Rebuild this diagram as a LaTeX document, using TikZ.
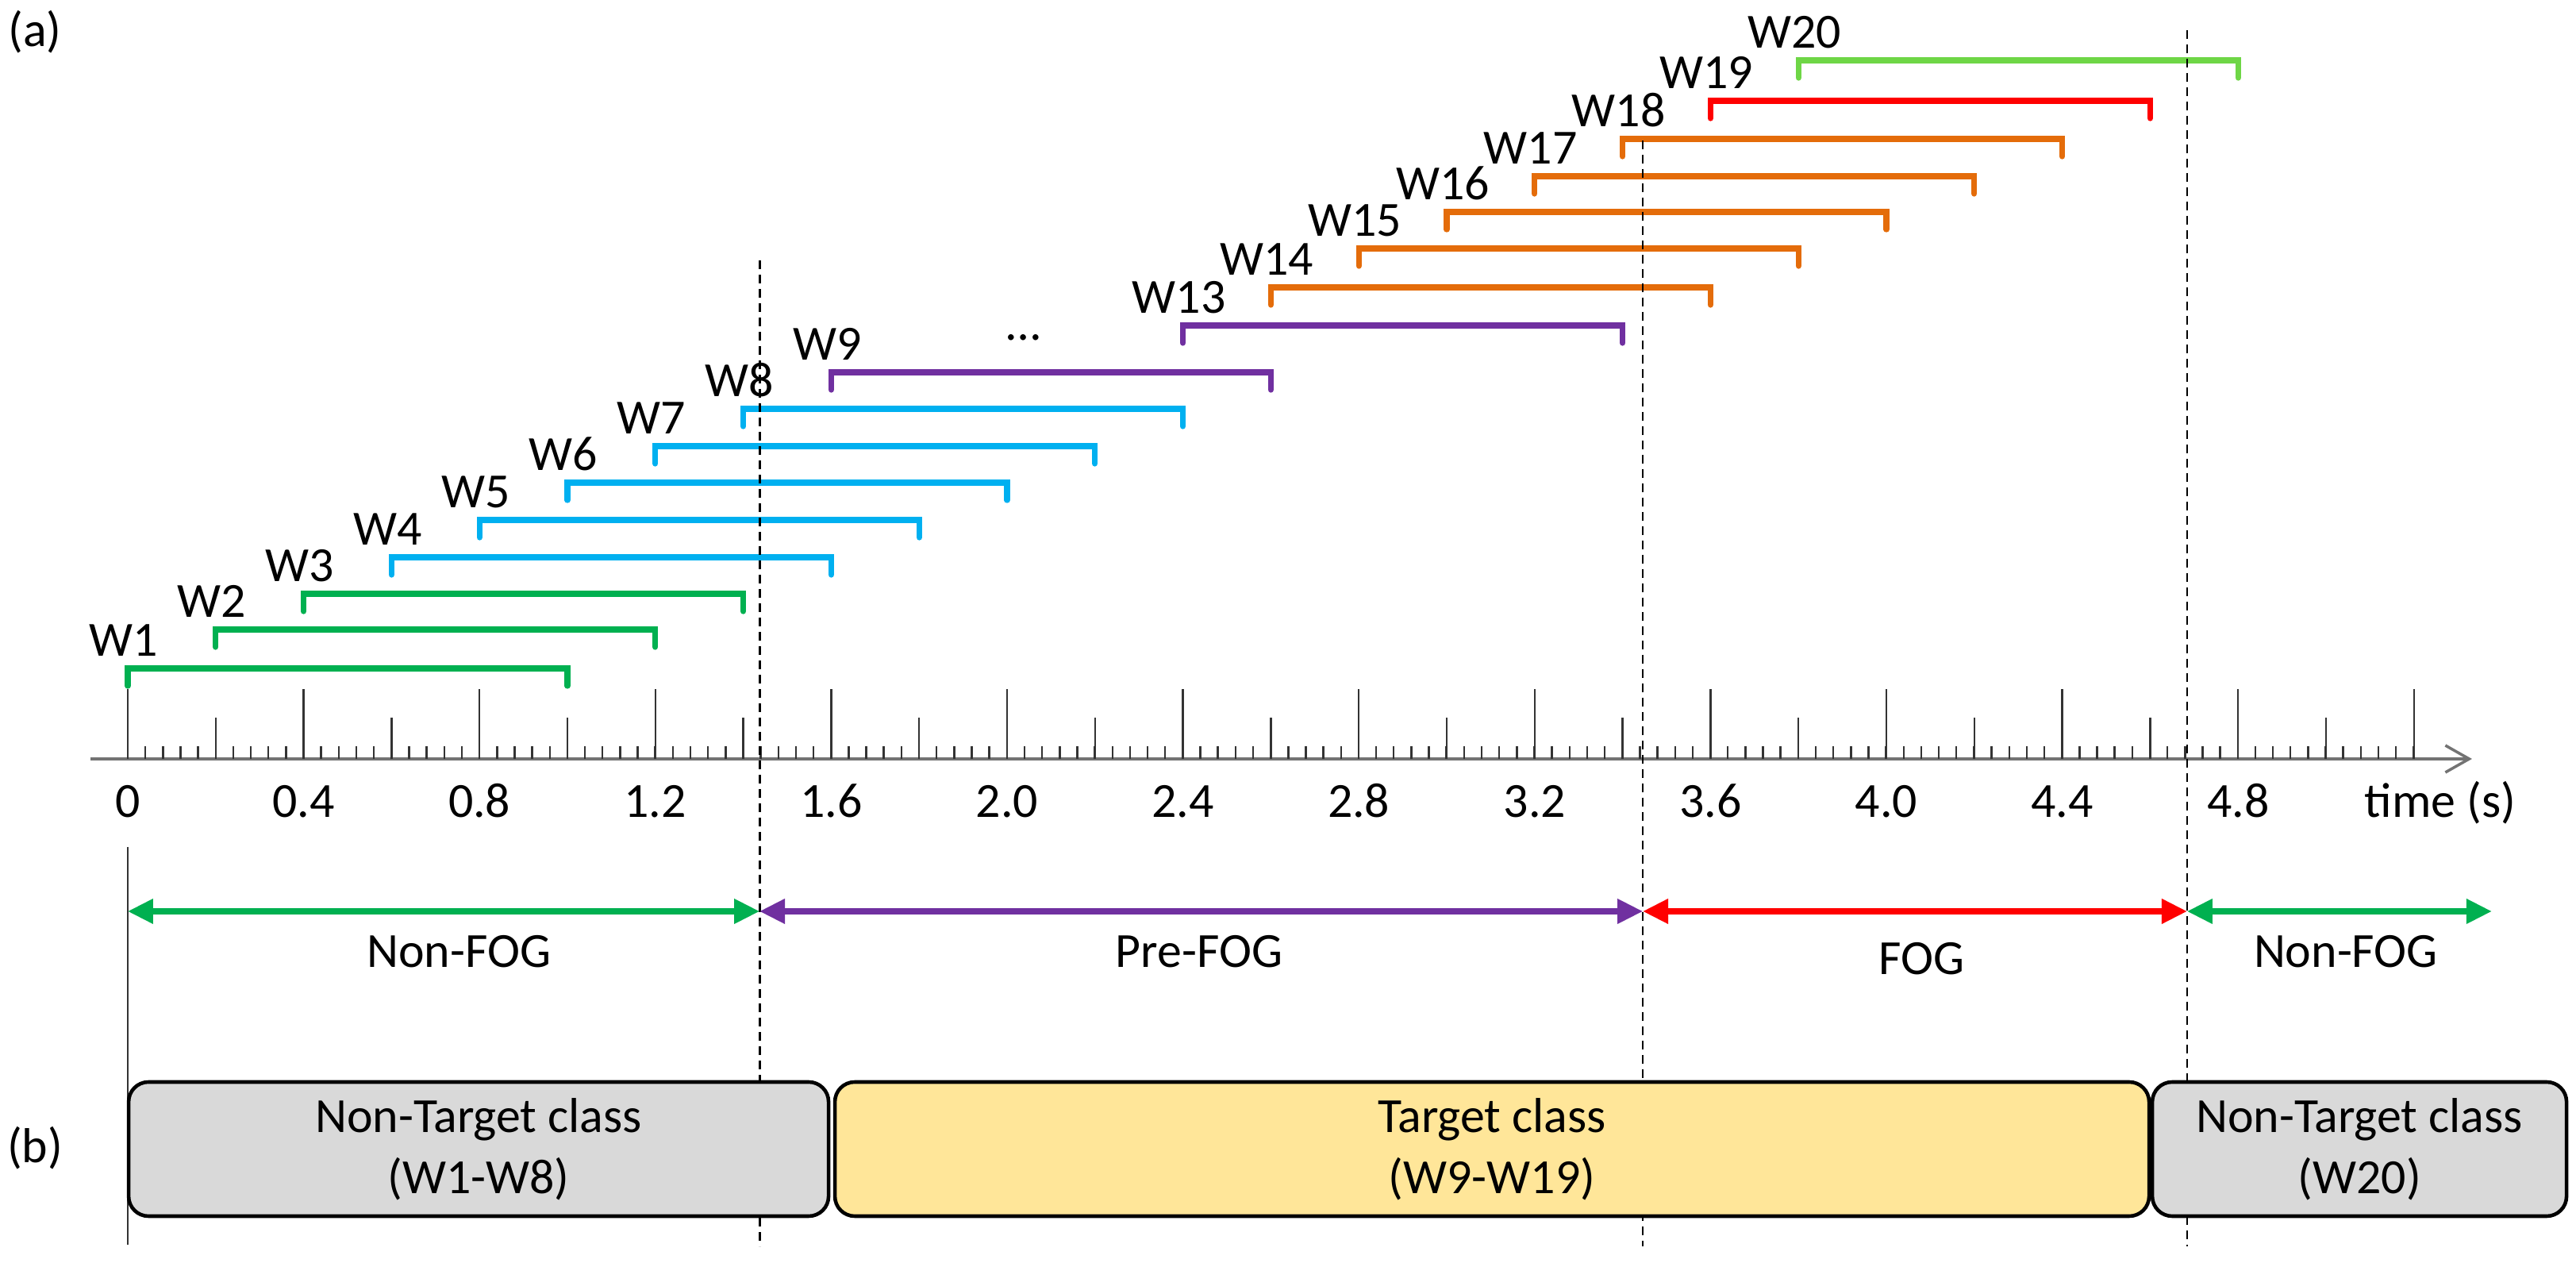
\documentclass[tikz,border=0pt]{standalone}
\usepackage{fontspec}
\setmainfont{Carlito}
\usepackage{tikz}
\usetikzlibrary{arrows.meta}
\usetikzlibrary{positioning}
\definecolor{wgreen}{RGB}{0,176,80}
\definecolor{wblue}{RGB}{0,176,240}
\definecolor{wpurple}{RGB}{112,48,160}
\definecolor{worange}{RGB}{228,108,10}
\definecolor{wred}{RGB}{255,0,0}
\definecolor{wlime}{RGB}{110,214,70}
\definecolor{boxgray}{RGB}{217,217,217}
\definecolor{boxyellow}{RGB}{255,230,153}
\tikzset{win/.style = {line width=2.1pt, line cap=round}}
\tikzset{wlabel/.style = {anchor=base, inner sep=0, xshift=-0.05cm, yshift=0.15cm}}
\tikzset{tickmark/.style = {line width=0.7pt, black!80}}
\tikzset{phase/.style = {line width=2pt,
                         {Triangle[length=3.2mm,width=3mm]}-{Triangle[length=3.2mm,width=3mm]}}}
\tikzset{sep/.style = {line width=0.8pt, dash pattern=on 1.1mm off 0.7mm}}
\tikzset{cls/.style = {draw, line width=1.3pt, rounded corners=2.5mm, align=center,
                       minimum height=1.69cm, inner sep=0}}

\begin{document}
\begin{tikzpicture}[x=5.54cm, y=1cm, font=\fontsize{17.6}{21.9}\selectfont]
  \useasboundingbox (-0.2906,-6.35) rectangle (5.5686,9.56);
  \node (lbla) at (-0.211,9.16) {(a)};
  \node (lblb) at (-0.211,-4.9) {(b)};
  % time axis
  \draw [line width=1pt, black!55, -{Straight Barb[length=3mm,width=3.4mm]}] (-0.085,0) -- (5.332,0);
  \foreach \i in {0,...,130} \draw [tickmark] (\i*0.04,0) -- ++(0,0.16);
  \foreach \i in {0,...,26} \draw [tickmark] (\i*0.2,0) -- ++(0,0.52);
  \foreach \i in {0,...,13} \draw [tickmark] (\i*0.4,0) -- ++(0,0.88);
  \foreach \t [count=\n] in {0,0.4,0.8,1.2,1.6,2.0,2.4,2.8,3.2,3.6,4.0,4.4,4.8}
    \node [anchor=base] (tick\n) at (\t,-0.74) {\t};
  \node [anchor=base] (unit) at (5.26,-0.74) {time (s)};
  % windows
  \foreach \k/\s/\y/\c in {1/0/1.14/wgreen, 2/0.2/1.63/wgreen, 3/0.4/2.08/wgreen,
                           4/0.6/2.54/wblue, 5/0.8/3.01/wblue, 6/1.0/3.48/wblue,
                           7/1.2/3.94/wblue, 8/1.4/4.41/wblue, 9/1.6/4.87/wpurple,
                           13/2.4/5.46/wpurple, 14/2.6/5.94/worange, 15/2.8/6.43/worange,
                           16/3.0/6.89/worange, 17/3.2/7.34/worange, 18/3.4/7.81/worange,
                           19/3.6/8.29/wred, 20/3.8/8.80/wlime} {
    \draw [win, \c] (\s,\y-0.22) -- (\s,\y) -- (\s+1,\y) -- (\s+1,\y-0.22);
    \node [wlabel] (w\k) at (\s,\y) {W\k};
  }
  \node [anchor=base] (dots) at (2.038,5.27) {\ldots};
  % phase borders
  \draw [line width=0.7pt, black!80] (0,-1.11) -- (0,-6.12);
  \draw [sep] (1.437,6.28) -- (1.437,-6.14);
  \draw [sep] (3.446,7.79) -- (3.446,-6.14);
  \draw [sep] (4.684,9.18) -- (4.684,-6.14);
  \coordinate (p0) at (0,-1.92);
  \coordinate (p1) at (1.437,-1.92);
  \coordinate (p2) at (3.446,-1.92);
  \coordinate (p3) at (4.684,-1.92);
  \coordinate (p4) at (5.377,-1.92);
  \draw [phase, wgreen] (p0) -- (p1);
  \draw [phase, wpurple] (p1) -- (p2);
  \draw [phase, wred] (p2) -- (p3);
  \draw [phase, wgreen] (p3) -- (p4);
  \node [anchor=base] (nonfog1) at (0.753,-2.63) {Non-FOG};
  \node [anchor=base] (prefog) at (2.437,-2.63) {Pre-FOG};
  \node [anchor=base] (fog) at (4.081,-2.72) {FOG};
  \node [anchor=base] (nonfog2) at (5.045,-2.63) {Non-FOG};
  % classes
  \node [cls, fill=boxgray, minimum width=8.82cm] (nt1) at (0.798,-4.915) {Non-Target class\\(W1-W8)};
  \node [cls, fill=boxyellow, minimum width=16.56cm] (tc) at (3.103,-4.915) {Target class\\(W9-W19)};
  \node [cls, fill=boxgray, minimum width=5.22cm] (nt2) at (5.076,-4.915) {Non-Target class\\(W20)};
\end{tikzpicture}
\end{document}
